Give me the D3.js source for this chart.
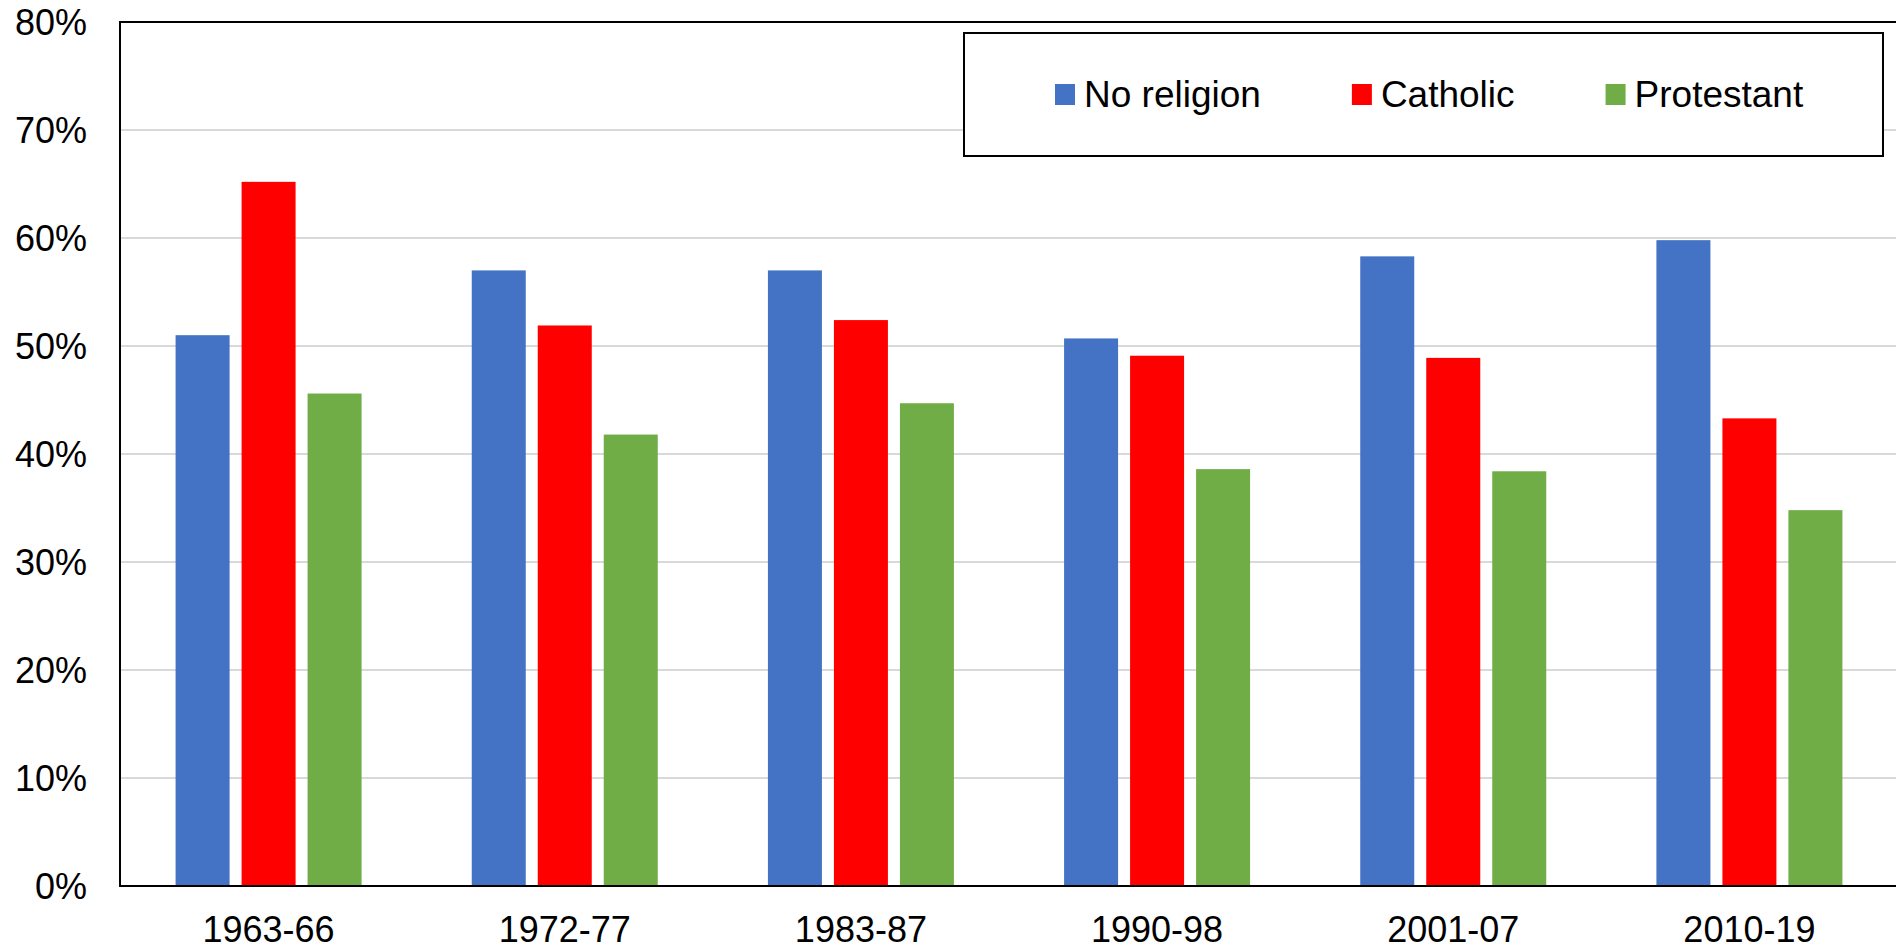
<!DOCTYPE html>
<html>
<head>
<meta charset="utf-8">
<script src="https://cdn.jsdelivr.net/npm/d3@7"></script>
<style>
  html, body { margin: 0; padding: 0; background: #fff; }
  svg { display: block; font-family: "Liberation Sans", Arial, sans-serif; }
</style>
</head>
<body>
<svg id="chart" width="1896" height="949"></svg>
<script>
const categories = ["1963-66", "1972-77", "1983-87", "1990-98", "2001-07", "2010-19"];
const seriesNames = ["No religion", "Catholic", "Protestant"];
const noReligion = [51.0, 57.0, 57.0, 50.7, 58.3, 59.8];
const catholic   = [65.2, 51.9, 52.4, 49.1, 48.9, 43.3];
const protestant = [45.6, 41.8, 44.7, 38.6, 38.4, 34.8];
const yTicks = [0, 10, 20, 30, 40, 50, 60, 70, 80];
const colors = ["#4472C4", "#FF0000", "#70AD47"];

const seriesValues = [noReligion, catholic, protestant];

const svg = d3.select("#chart");
const W = 1896, H = 949;
const m = { left: 120, top: 22, right: 0, bottom: 63 };
const x0 = d3.scaleBand().domain(categories).range([m.left + 0.5, W + 1.5]).paddingInner(0).paddingOuter(0);
const groupW = 186;
const x1 = d3.scaleBand().domain(seriesNames).range([-groupW / 2, groupW / 2]).paddingInner(12 / 66).paddingOuter(0);
const y = d3.scaleLinear().domain([0, 80]).range([H - m.bottom, m.top]);

// gridlines
svg.append("g")
  .selectAll("line")
  .data(yTicks.filter(t => t > 0 && t < 80))
  .join("line")
  .attr("x1", m.left).attr("x2", W)
  .attr("y1", d => y(d)).attr("y2", d => y(d))
  .attr("stroke", "#d9d9d9").attr("stroke-width", 2);

// bars
const rows = categories.map((c, i) => ({ cat: c, vals: seriesNames.map((s, j) => ({ s, j, v: seriesValues[j][i] })) }));
svg.append("g")
  .selectAll("g")
  .data(rows)
  .join("g")
  .attr("transform", d => `translate(${x0(d.cat) + x0.bandwidth() / 2},0)`)
  .selectAll("rect")
  .data(d => d.vals)
  .join("rect")
  .attr("x", d => x1(d.s))
  .attr("width", x1.bandwidth())
  .attr("y", d => y(d.v))
  .attr("height", d => y(0) - y(d.v))
  .attr("fill", d => colors[d.j]);

// frame (top, left, bottom)
const frame = svg.append("g").attr("stroke", "#000").attr("stroke-width", 2).attr("fill", "none");
frame.append("line").attr("x1", m.left).attr("x2", W).attr("y1", y(80)).attr("y2", y(80));
frame.append("line").attr("x1", m.left).attr("x2", m.left).attr("y1", y(80) - 1).attr("y2", y(0) + 1);
frame.append("line").attr("x1", m.left - 1).attr("x2", W).attr("y1", y(0)).attr("y2", y(0));

// y axis labels
const yAxis = d3.axisLeft(y).tickValues(yTicks).tickFormat(d => d + "%").tickSize(0).tickPadding(33);
const ya = svg.append("g").attr("transform", `translate(${m.left},0)`).call(yAxis);
ya.select(".domain").remove();
ya.selectAll("text").attr("font-size", 36).attr("fill", "#000").attr("font-family", "Liberation Sans, Arial, sans-serif").attr("dy", "0.35em");

// x axis labels
const xAxis = d3.axisBottom(x0).tickSize(0).tickPadding(0);
const xa = svg.append("g").attr("transform", `translate(0,${y(0)})`).call(xAxis);
xa.select(".domain").remove();
xa.selectAll("text").attr("font-size", 36).attr("fill", "#000").attr("font-family", "Liberation Sans, Arial, sans-serif").attr("dy", null).attr("y", 56);

// legend
const lg = svg.append("g");
lg.append("rect").attr("x", 964).attr("y", 33).attr("width", 919).attr("height", 123)
  .attr("fill", "#fff").attr("stroke", "#000").attr("stroke-width", 2);
let lx = 1055;
seriesNames.forEach((s, j) => {
  lg.append("rect").attr("x", lx).attr("y", 84).attr("width", 20).attr("height", 21).attr("fill", colors[j]);
  const t = lg.append("text").attr("x", lx + 29).attr("y", 107).attr("font-size", 37).attr("fill", "#000").text(s);
  lx += 29 + t.node().getComputedTextLength() + 91;
});
</script>
</body>
</html>
